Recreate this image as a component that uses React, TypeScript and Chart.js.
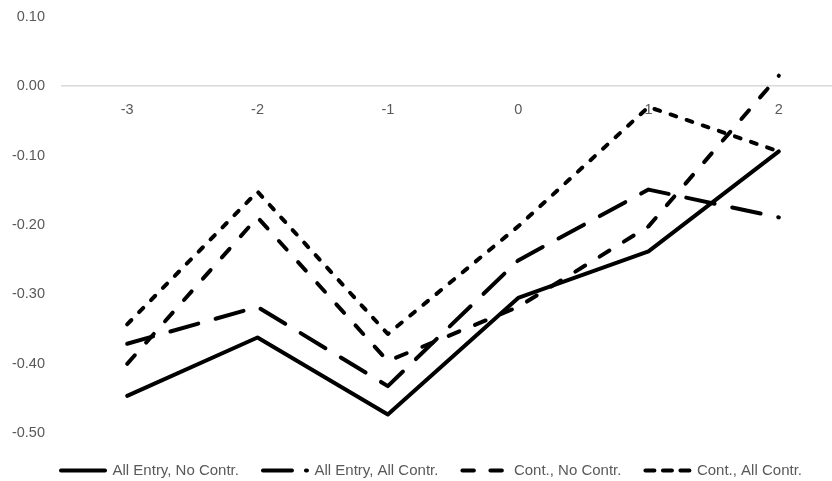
import React, { useEffect, useRef } from 'react';
import { Chart, registerables } from 'chart.js';

Chart.register(...registerables);

const periods = ['-3', '-2', '-1', '0', '1', '2'];
const allEntryNoContr = [-0.446, -0.362, -0.473, -0.305, -0.238, -0.094];
const allEntryAllContr = [-0.371, -0.318, -0.432, -0.251, -0.149, -0.189];
const contNoContr = [-0.4, -0.189, -0.396, -0.318, -0.202, 0.015];
const contAllContr = [-0.343, -0.152, -0.357, -0.202, -0.03, -0.094];
const seriesNames = ['All Entry, No Contr.', 'All Entry, All Contr.', 'Cont., No Contr.', 'Cont., All Contr.'];
const yMin = -0.5;
const yMax = 0.1;
const yStep = 0.1;

const TICK_FONT = { family: "'Liberation Sans', Arial, sans-serif", size: 14.5 };
const LEGEND_FONT = { family: "'Liberation Sans', Arial, sans-serif", size: 15 };
const TEXT = '#595959';

const lineDashes = [[], [29, 18], [11.5, 17], [6, 11]];
const lineDashOffsets = [0, 2.1, 0, 0];
const legendDashes = [[], [29, 14], [11.5, 16.5], [9, 8.5]];

export default function App() {
  const ref = useRef<HTMLCanvasElement | null>(null);

  useEffect(() => {
    if (!ref.current) return;
    const mk = (label: string, data: number[], i: number) => ({
      label,
      data,
      xAxisID: 'x',
      yAxisID: 'y',
      borderColor: '#000000',
      backgroundColor: '#000000',
      borderWidth: 4,
      borderDash: lineDashes[i],
      borderDashOffset: lineDashOffsets[i],
      borderCapStyle: 'round',
      borderJoinStyle: 'round',
      pointRadius: 0,
      pointHoverRadius: 0,
      tension: 0,
      fill: false,
    });
    const chart = new Chart(ref.current, {
      type: 'line',
      data: {
        labels: periods,
        datasets: [
          mk(seriesNames[0], allEntryNoContr, 0),
          mk(seriesNames[1], allEntryAllContr, 1),
          mk(seriesNames[2], contNoContr, 2),
          mk(seriesNames[3], contAllContr, 3),
        ] as any,
      },
      options: {
        responsive: false,
        animation: false,
        layout: { padding: { top: 16.7, left: 0, right: 0, bottom: 0 } },
        plugins: {
          tooltip: { enabled: false },
          legend: {
            position: 'bottom',
            labels: {
              usePointStyle: true,
              pointStyle: 'line',
              pointStyleWidth: 44,
              padding: 24,
              color: TEXT,
              font: LEGEND_FONT,
              generateLabels: (c: any) => {
                const items = (Chart as any).defaults.plugins.legend.labels.generateLabels(c);
                items.forEach((it: any) => {
                  const ds = c.data.datasets[it.datasetIndex];
                  it.lineDash = legendDashes[it.datasetIndex];
                  it.lineDashOffset = 0;
                  it.lineWidth = ds.borderWidth;
                  it.lineCap = 'round';
                  it.strokeStyle = '#000000';
                  it.fillStyle = '#000000';
                  it.pointStyle = 'line';
                });
                return items;
              },
            },
          },
        },
        scales: {
          x: {
            type: 'category',
            position: { y: 0 } as any,
            offset: true,
            grid: { display: false, drawTicks: false },
            border: { display: true, color: '#d9d9d9', width: 1.5 },
            ticks: { color: TEXT, font: TICK_FONT, padding: 15, maxRotation: 0, autoSkip: false },
          },
          y: {
            type: 'linear',
            position: 'left',
            min: yMin,
            max: yMax,
            grid: { display: false, drawTicks: false },
            border: { display: false },
            ticks: {
              stepSize: yStep,
              color: TEXT,
              font: TICK_FONT,
              padding: 17,
              callback: (v: any) => {
                const n = Number(v);
                return Math.abs(n) < 1e-9 ? '0.00' : n.toFixed(2);
              },
            },
            afterFit: (s: any) => {
              s.width = 62;
              s.paddingTop = 0;
              s.paddingBottom = 0;
            },
          },
          padR: {
            type: 'linear',
            position: 'right',
            display: true,
            min: 0,
            max: 1,
            grid: { display: false, drawTicks: false },
            border: { display: false },
            ticks: { display: false },
            afterFit: (s: any) => {
              s.width = 19;
              s.paddingTop = 0;
              s.paddingBottom = 0;
            },
          },
          pad: {
            type: 'linear',
            position: 'bottom',
            display: true,
            min: 0,
            max: 1,
            grid: { display: false, drawTicks: false },
            border: { display: false },
            ticks: { display: false },
            afterFit: (s: any) => {
              s.height = 5.7;
            },
          },
        },
      } as any,
    });
    return () => chart.destroy();
  }, []);

  return (
    <div style={{ position: 'fixed', left: 0, top: 0, width: 832, height: 481, overflow: 'hidden', background: '#ffffff' }}>
      <canvas ref={ref} width={863} height={488} style={{ display: 'block' }} />
    </div>
  );
}
